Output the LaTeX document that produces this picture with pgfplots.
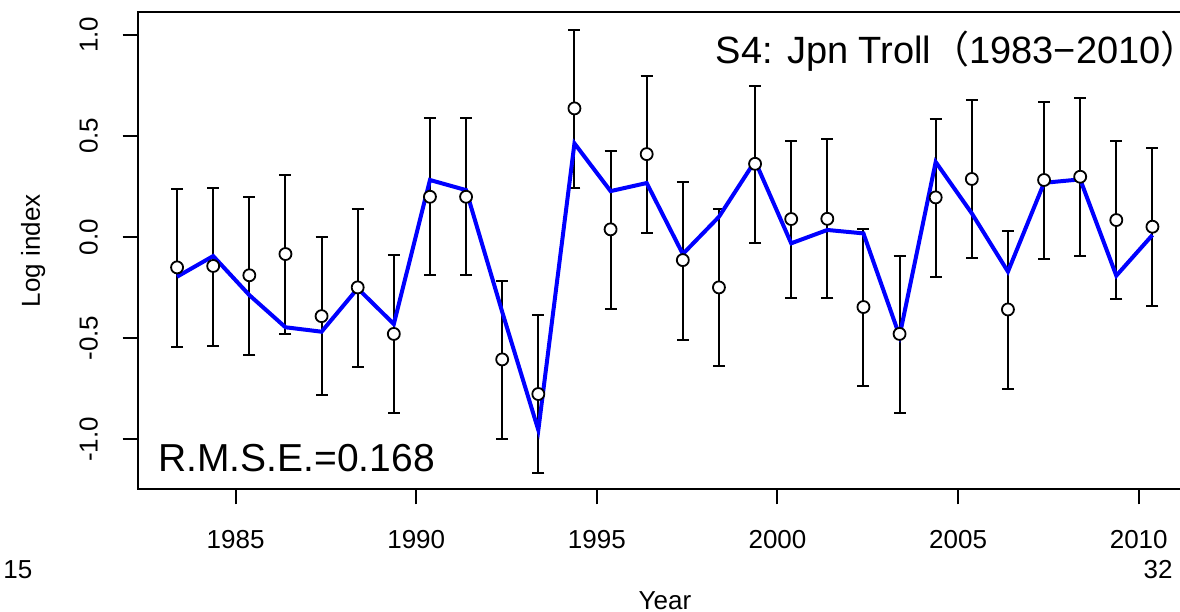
\documentclass[border=0pt]{standalone}
\usepackage{pgfplots}
\pgfplotsset{compat=1.18}
\usepackage{pgfplotstable}
\usepackage{fontspec}
\setmainfont{Liberation Sans}
\newfontfamily\cjk{Noto Sans CJK JP}

\pgfplotstableread{
x obs up lo fit
1983.38 -0.150 0.237 -0.544 -0.196
1984.38 -0.143 0.244 -0.537 -0.094
1985.38 -0.189 0.198 -0.582 -0.287
1986.38 -0.084 0.305 -0.478 -0.446
1987.38 -0.391 0.000 -0.781 -0.468
1988.38 -0.249 0.138 -0.643 -0.254
1989.38 -0.479 -0.089 -0.870 -0.430
1990.38 0.199 0.587 -0.189 0.282
1991.38 0.199 0.587 -0.189 0.232
1992.38 -0.605 -0.219 -0.997 -0.370
1993.38 -0.776 -0.387 -1.167 -0.954
1994.38 0.636 1.023 0.244 0.463
1995.38 0.038 0.425 -0.354 0.227
1996.38 0.410 0.797 0.018 0.267
1997.38 -0.114 0.272 -0.509 -0.084
1998.38 -0.249 0.138 -0.638 0.100
1999.38 0.362 0.746 -0.031 0.376
2000.38 0.089 0.475 -0.303 -0.031
2001.38 0.090 0.483 -0.300 0.035
2002.38 -0.346 0.041 -0.735 0.018
2003.38 -0.479 -0.094 -0.870 -0.489
2004.38 0.196 0.583 -0.199 0.371
2005.38 0.287 0.677 -0.102 0.117
2006.38 -0.358 0.031 -0.750 -0.171
2007.38 0.282 0.669 -0.110 0.268
2008.38 0.298 0.687 -0.092 0.285
2009.38 0.084 0.473 -0.306 -0.191
2010.38 0.051 0.438 -0.341 0.010
}\data

\begin{document}
\begin{tikzpicture}
\useasboundingbox (0,0) rectangle (590bp,306bp);
\begin{axis}[
  at={(68.85bp,61.35bp)}, anchor=south west,
  scale only axis, width=526.15bp, height=238.5bp,
  xmin=1982.29, xmax=2011.42, ymin=-1.247, ymax=1.111,
  axis line style={line width=1bp, black},
  tick style={line width=1bp, black},
  tick align=outside, major tick length=7.5bp,
  tick pos=left,
  xtick={1985,1990,1995,2000,2005,2010},
  xticklabels={1985,1990,1995,2000,2005,2010},
  ytick={-1,-0.5,0,0.5,1},
  yticklabels={-1.0,-0.5,0.0,0.5,1.0},
  ticklabel style={font=\fontsize{13bp}{15bp}\selectfont, inner sep=0pt},
  xticklabel style={anchor=base, yshift=-22.1bp},
  yticklabel style={xshift=-12.6bp, rotate=90, anchor=base},
  label style={font=\fontsize{13bp}{15bp}\selectfont, inner sep=0pt},
  xlabel={Year},
  xlabel style={at={(axis description cs:0.501,-0.251)}, anchor=base},
  ylabel={Log index},
  ylabel style={at={(axis description cs:-0.093,0.5)}, anchor=base},
]
\addplot[only marks, mark=none, black,
  error bars/.cd, y dir=both, y explicit, error mark=-,
  error bar style={line width=1bp, black},
  error mark options={rotate=90, line width=1bp, black, mark size=3bp}]
  table[x=x, y=obs, y error plus expr=\thisrow{up}-\thisrow{obs},
        y error minus expr=\thisrow{obs}-\thisrow{lo}] {\data};
\addplot[only marks, mark=*, mark size=3bp,
  mark options={line width=0.9bp, draw=black, fill=white}]
  table[x=x, y=obs] {\data};
\addplot[color={rgb,255:red,0;green,0;blue,255}, line width=2bp, mark=none]
  table[x=x, y=fit] {\data};
\end{axis}
\node[anchor=base east, inner sep=0pt, font=\fontsize{19bp}{22bp}\selectfont]
  at (586bp,274bp) {S4: Jpn Troll{\cjk （}1983−2010{\cjk ）}\kern-13.5bp};
\node[anchor=base west, inner sep=0pt, font=\fontsize{19.5bp}{22bp}\selectfont]
  at (79bp,70.15bp) {R.M.S.E.=0.168};
\node[anchor=base west, inner sep=0pt, font=\fontsize{13bp}{15bp}\selectfont]
  at (1.5bp,17bp) {15};
\node[anchor=base east, inner sep=0pt, font=\fontsize{13bp}{15bp}\selectfont]
  at (586.5bp,17bp) {32};
\end{tikzpicture}
\end{document}
